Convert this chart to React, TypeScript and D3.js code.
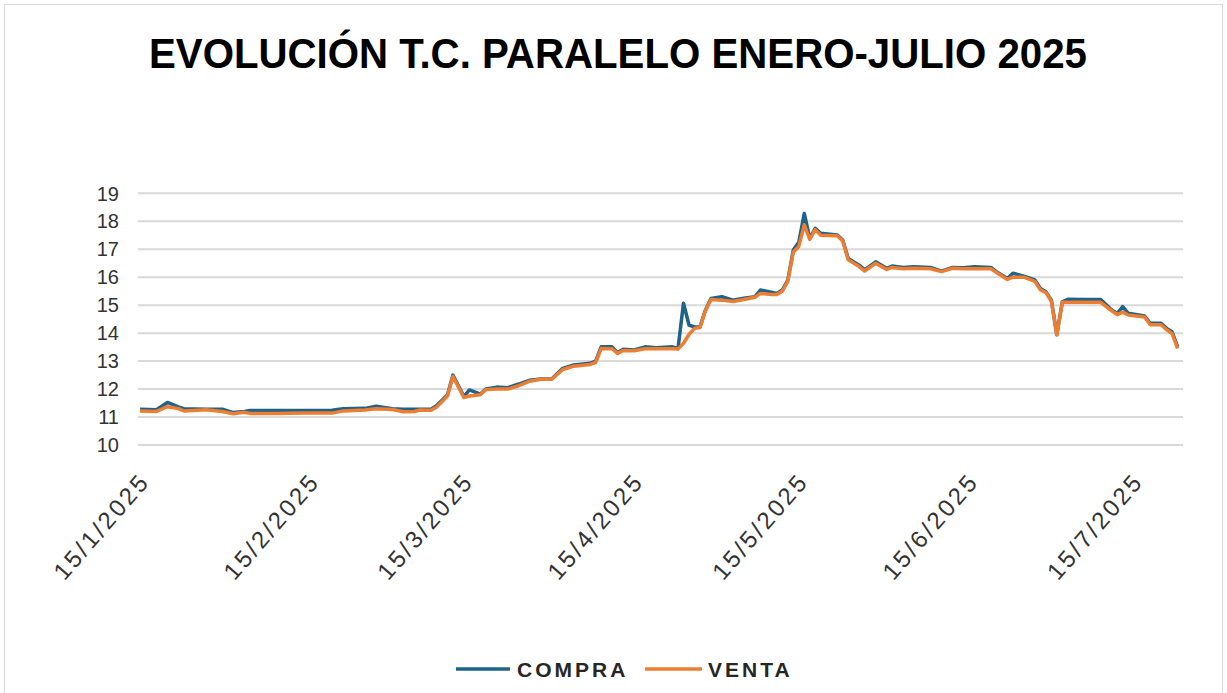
import React from "react";
import * as d3 from "d3";

// fechas (dd/mm/yyyy)
const fechas = [
  "15/01/2025", "18/01/2025", "20/01/2025", "22/01/2025", "23/01/2025", "27/01/2025", "30/01/2025",
  "01/02/2025", "03/02/2025", "04/02/2025", "09/02/2025", "14/02/2025", "19/02/2025", "21/02/2025",
  "25/02/2025", "27/02/2025", "02/03/2025", "04/03/2025", "06/03/2025", "07/03/2025", "09/03/2025",
  "10/03/2025", "12/03/2025", "13/03/2025", "15/03/2025", "16/03/2025", "18/03/2025", "19/03/2025",
  "21/03/2025", "23/03/2025", "25/03/2025", "27/03/2025", "29/03/2025", "31/03/2025", "02/04/2025",
  "04/04/2025", "07/04/2025", "08/04/2025", "09/04/2025", "11/04/2025", "12/04/2025", "13/04/2025",
  "15/04/2025", "17/04/2025", "19/04/2025", "22/04/2025", "23/04/2025", "24/04/2025", "25/04/2025",
  "26/04/2025", "27/04/2025", "28/04/2025", "29/04/2025", "01/05/2025", "03/05/2025", "05/05/2025",
  "07/05/2025", "08/05/2025", "10/05/2025", "11/05/2025", "12/05/2025", "13/05/2025", "14/05/2025",
  "15/05/2025", "16/05/2025", "17/05/2025", "18/05/2025", "19/05/2025", "22/05/2025", "23/05/2025",
  "24/05/2025", "26/05/2025", "27/05/2025", "29/05/2025", "31/05/2025", "01/06/2025", "03/06/2025",
  "05/06/2025", "08/06/2025", "10/06/2025", "12/06/2025", "14/06/2025", "16/06/2025", "19/06/2025",
  "20/06/2025", "22/06/2025", "23/06/2025", "25/06/2025", "27/06/2025", "28/06/2025", "29/06/2025",
  "30/06/2025", "01/07/2025", "02/07/2025", "03/07/2025", "06/07/2025", "09/07/2025", "11/07/2025",
  "12/07/2025", "13/07/2025", "14/07/2025", "17/07/2025", "18/07/2025", "20/07/2025", "21/07/2025",
  "22/07/2025", "23/07/2025"
];

const compra = [
  11.28, 11.26, 11.52, 11.36, 11.3, 11.28, 11.28,
  11.16, 11.2, 11.23, 11.23, 11.23, 11.24, 11.3,
  11.31, 11.39, 11.3, 11.28, 11.28, 11.28, 11.28,
  11.4, 11.79, 12.5, 11.73, 11.97, 11.82, 12.0,
  12.07, 12.05, 12.18, 12.32, 12.36, 12.36, 12.74,
  12.86, 12.92, 13.0, 13.51, 13.51, 13.3, 13.42,
  13.4, 13.51, 13.48, 13.51, 13.45, 15.07, 14.29,
  14.22, 14.22, 14.83, 15.24, 15.3, 15.18, 15.25,
  15.3, 15.54, 15.46, 15.42, 15.54, 15.9, 16.97,
  17.25, 18.28, 17.39, 17.75, 17.57, 17.51, 17.33,
  16.67, 16.43, 16.26, 16.55, 16.32, 16.4, 16.35,
  16.37, 16.35, 16.22, 16.35, 16.34, 16.37, 16.35,
  16.2, 15.95, 16.14, 16.04, 15.9, 15.6, 15.48,
  15.18, 13.95, 15.12, 15.21, 15.2, 15.2, 14.83,
  14.7, 14.95, 14.71, 14.61, 14.35, 14.35, 14.17,
  14.05, 13.51
];

const venta = [
  11.22, 11.2, 11.37, 11.3, 11.22, 11.26, 11.2,
  11.12, 11.17, 11.13, 11.13, 11.14, 11.14, 11.22,
  11.25, 11.3, 11.27, 11.19, 11.2, 11.25, 11.24,
  11.35, 11.75, 12.45, 11.7, 11.75, 11.8, 11.98,
  12.0, 12.0, 12.12, 12.28, 12.35, 12.35, 12.7,
  12.82, 12.88, 12.95, 13.45, 13.44, 13.27, 13.38,
  13.37, 13.44, 13.44, 13.44, 13.43, 13.64, 13.95,
  14.17, 14.2, 14.8, 15.2, 15.18, 15.13, 15.2,
  15.28, 15.42, 15.38, 15.38, 15.5, 15.85, 16.9,
  17.1, 17.87, 17.35, 17.7, 17.5, 17.48, 17.3,
  16.62, 16.38, 16.22, 16.5, 16.28, 16.35, 16.3,
  16.32, 16.3, 16.2, 16.32, 16.3, 16.3, 16.3,
  16.17, 15.92, 16.0, 16.0, 15.85, 15.55, 15.45,
  15.15, 13.93, 15.1, 15.1, 15.1, 15.1, 14.8,
  14.66, 14.75, 14.65, 14.58, 14.3, 14.3, 14.12,
  13.98, 13.45
];

const yTicks = [10, 11, 12, 13, 14, 15, 16, 17, 18, 19];
const xTickLabels = ["15/1/2025", "15/2/2025", "15/3/2025", "15/4/2025", "15/5/2025", "15/6/2025", "15/7/2025"];

const W = 1227;
const H = 693;
const parse = d3.utcParse("%d/%m/%Y");

const COLOR_COMPRA = "#1f6388";
const COLOR_VENTA = "#ed7d31";

export default function App() {
  const dates = fechas.map(f => parse(f) as Date);
  const x = d3
    .scaleUtc()
    .domain([dates[0], dates[dates.length - 1]])
    .range([140, 1177.6]);
  const y = d3.scaleLinear().domain([10, 19]).range([445, 193.3]);

  const line = d3
    .line<number>()
    .x((d, i) => x(dates[i]))
    .y(d => y(d));

  const tickDates = xTickLabels.map(t => parse(t) as Date);

  return (
    <svg
      width={W}
      height={H}
      style={{ position: "absolute", left: 0, top: 0, background: "#fff" }}
      fontFamily="'Liberation Sans', Arial, sans-serif"
    >
      <rect x={4.5} y={4.5} width={1218} height={700} fill="#fff" stroke="#d9d9d9" strokeWidth={1} />

      <text
        x={618}
        y={68}
        textAnchor="middle"
        fontSize={43}
        fontWeight="bold"
        fill="#000"
        textLength={938}
        lengthAdjust="spacingAndGlyphs"
      >
        EVOLUCIÓN T.C. PARALELO ENERO-JULIO 2025
      </text>

      {/* grid */}
      <g>
        {yTicks.map(t => (
          <line key={t} x1={138} x2={1183} y1={y(t)} y2={y(t)} stroke="#d9d9d9" strokeWidth={2} />
        ))}
      </g>

      {/* eje y */}
      <g fontSize={20} fill="#333" textAnchor="end">
        {yTicks.map(t => (
          <text key={t} x={119} y={y(t)} dy="0.36em">
            {t}
          </text>
        ))}
      </g>

      {/* eje x */}
      <g fontSize={24} fill="#333" textAnchor="end" letterSpacing={2.8}>
        {tickDates.map((d, i) => (
          <text key={i} transform={`translate(${x(d) + 11},${482}) rotate(-49)`}>
            {xTickLabels[i]}
          </text>
        ))}
      </g>

      <path d={line(compra) || ""} fill="none" stroke={COLOR_COMPRA} strokeWidth={3.5} strokeLinejoin="round" />
      <path d={line(venta) || ""} fill="none" stroke={COLOR_VENTA} strokeWidth={3.5} strokeLinejoin="round" />

      {/* leyenda */}
      <g fontSize={21} fontWeight="bold" fill="#262626" letterSpacing={3}>
        <line x1={456} x2={510} y1={669} y2={669} stroke={COLOR_COMPRA} strokeWidth={3.5} />
        <text x={517} y={677}>COMPRA</text>
        <line x1={645} x2={702} y1={669} y2={669} stroke={COLOR_VENTA} strokeWidth={3.5} />
        <text x={708} y={677}>VENTA</text>
      </g>
    </svg>
  );
}
